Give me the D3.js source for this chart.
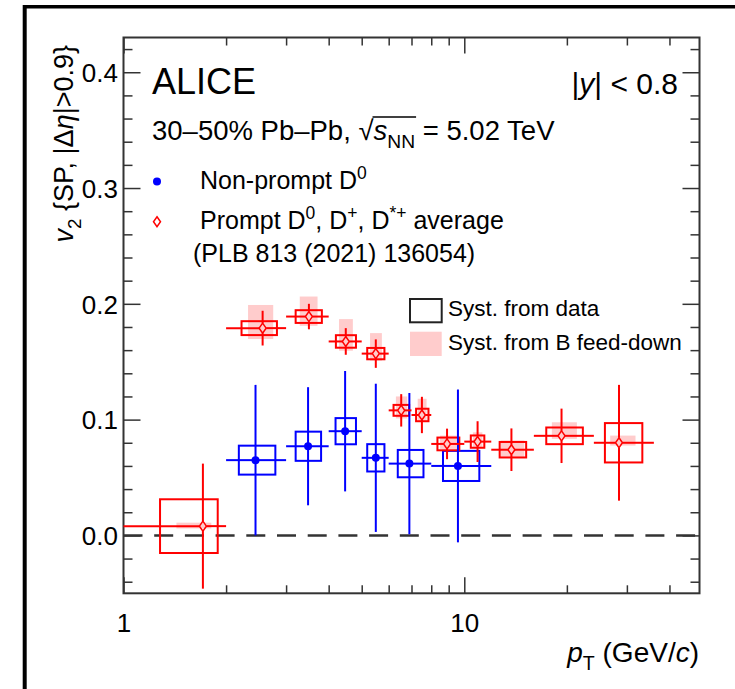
<!DOCTYPE html>
<html>
<head>
<meta charset="utf-8">
<script src="https://cdn.jsdelivr.net/npm/d3@7"></script>
<style>
  body { margin: 0; background: #fff; }
  svg text { font-family: "Liberation Sans", Arial, Helvetica, sans-serif; fill: #000; }
</style>
</head>
<body>
<svg id="chart" width="735" height="689"></svg>
<script>
// non-prompt D0 (blue)
const npPt    = [2.44, 3.48, 4.47, 5.5, 6.9, 9.58];
const npBinLo = [2, 3, 4, 5, 6, 8];
const npBinHi = [3, 4, 5, 6, 8, 12];
const npV2    = [0.065, 0.077, 0.090, 0.067, 0.062, 0.060];
const npStat  = [0.065, 0.051, 0.052, 0.064, 0.061, 0.066];
const npSyst  = [0.0125, 0.0126, 0.0113, 0.0118, 0.0118, 0.013];
const npBoxLo = [2.18, 3.2, 4.19, 5.19, 6.38, 8.66];
const npBoxHi = [2.79, 3.8, 4.81, 5.83, 7.59, 11.07];

// prompt D average (red)
const prPt    = [1.71, 2.56, 3.5, 4.49, 5.5, 6.53, 7.51, 8.9, 10.94, 13.75, 19.29, 28.44];
const prBinLo = [1, 2, 3, 4, 5, 6, 7, 8, 10, 12, 16, 24];
const prBinHi = [2, 3, 4, 5, 6, 7, 8, 10, 12, 16, 24, 36];
const prV2    = [0.008, 0.179, 0.189, 0.1675, 0.157, 0.108, 0.104, 0.079, 0.081, 0.074, 0.086, 0.080];
const prStat  = [0.054, 0.015, 0.011, 0.0115, 0.0123, 0.014, 0.0157, 0.0132, 0.0176, 0.0184, 0.0235, 0.050];
const prSyst  = [0.0232, 0.006, 0.0055, 0.0054, 0.0049, 0.0047, 0.0054, 0.0055, 0.0053, 0.0067, 0.0072, 0.017];
const prBoxLo = [1.28, 2.22, 3.2, 4.2, 5.19, 6.2, 7.22, 8.34, 10.45, 12.7, 17.4, 25.86];
const prBoxHi = [1.89, 2.82, 3.82, 4.81, 5.83, 6.89, 7.85, 9.67, 11.45, 15.19, 22.28, 33.3];
// B feed-down syst band
const prFdLo  = [0.006, 0.1696, 0.181, 0.1595, 0.1509, 0.101, 0.098, 0.0747, 0.076, 0.0675, 0.0834, 0.0776];
const prFdHi  = [0.011, 0.199, 0.2063, 0.1868, 0.1747, 0.120, 0.118, 0.0862, 0.089, 0.0819, 0.0977, 0.0862];
const prFdXLo = [1.43, 2.32, 3.29, 4.29, 5.29, 6.3, 7.3, 8.49, 10.6, 12.8, 18.07, 26.8];
const prFdXHi = [1.81, 2.75, 3.71, 4.71, 5.73, 6.8, 7.75, 9.5, 11.3, 15.0, 21.4, 31.8];

const yMajorTicks = [0.0, 0.1, 0.2, 0.3, 0.4];
const xMajorTicks = [1, 10];
const xMinorTicks = [2, 3, 4, 5, 6, 7, 8, 9, 20, 30, 40];

const svg = d3.select("#chart");
const margin = {left: 123.5, right: 699.5, top: 37.5, bottom: 593.3};
const blue = "#0000ff", red = "#ff0000", pink = "#ffcccc", axisCol = "#333";

const x = d3.scaleLog().domain([1, 49]).range([margin.left, margin.right]);
const y = d3.scaleLinear().domain([-0.05, 0.43]).range([margin.bottom, margin.top]);

// outer frame (only top/left visible)
svg.append("line").attr("x1", 24.7).attr("x2", 24.7).attr("y1", 5).attr("y2", 689)
  .attr("stroke", "#000").attr("stroke-width", 4);
svg.append("line").attr("x1", 23).attr("x2", 735).attr("y1", 6.7).attr("y2", 6.7)
  .attr("stroke", "#000").attr("stroke-width", 3.4);

const yMinorTicks = d3.range(-0.04, 0.43, 0.02).map(v => +v.toFixed(2))
  .filter(v => !yMajorTicks.some(m => Math.abs(m - v) < 1e-6));

// axes
function styleAxis(g) {
  g.select(".domain").remove();
  g.selectAll("line").attr("stroke", axisCol).attr("stroke-width", 1.5);
  g.selectAll("text").style("font-size", "26px")
    .style("font-family", '"Liberation Sans", Arial, sans-serif').attr("fill", "#000");
}
svg.append("g").attr("transform", `translate(${margin.left},0)`)
  .call(d3.axisLeft(y).tickValues(yMajorTicks).tickSize(-17).tickPadding(5.5).tickFormat(d3.format(".1f")))
  .call(styleAxis).selectAll("text").attr("dy", "0.36em");
svg.append("g").attr("transform", `translate(${margin.left},0)`)
  .call(d3.axisLeft(y).tickValues(yMinorTicks).tickSize(-9).tickFormat(""))
  .call(styleAxis);
svg.append("g").attr("transform", `translate(${margin.right},0)`)
  .call(d3.axisRight(y).tickValues(yMajorTicks).tickSize(-17).tickFormat(""))
  .call(styleAxis);
svg.append("g").attr("transform", `translate(${margin.right},0)`)
  .call(d3.axisRight(y).tickValues(yMinorTicks).tickSize(-9).tickFormat(""))
  .call(styleAxis);
svg.append("g").attr("transform", `translate(0,${margin.bottom})`)
  .call(d3.axisBottom(x).tickValues(xMajorTicks).tickSize(-16).tickPadding(20).tickFormat(d3.format("d")))
  .call(styleAxis);
svg.append("g").attr("transform", `translate(0,${margin.bottom})`)
  .call(d3.axisBottom(x).tickValues(xMinorTicks).tickSize(-8).tickFormat(""))
  .call(styleAxis);
svg.append("g").attr("transform", `translate(0,${margin.top})`)
  .call(d3.axisTop(x).tickValues(xMajorTicks).tickSize(-16).tickFormat(""))
  .call(styleAxis);
svg.append("g").attr("transform", `translate(0,${margin.top})`)
  .call(d3.axisTop(x).tickValues(xMinorTicks).tickSize(-8).tickFormat(""))
  .call(styleAxis);

svg.append("rect").attr("x", margin.left).attr("y", margin.top)
  .attr("width", margin.right - margin.left).attr("height", margin.bottom - margin.top)
  .attr("fill", "none").attr("stroke", axisCol).attr("stroke-width", 2);

// zero line
svg.append("line").attr("x1", margin.left).attr("x2", margin.right).attr("y1", y(0)).attr("y2", y(0))
  .attr("stroke", axisCol).attr("stroke-width", 2.5).attr("stroke-dasharray", "19,11.7");

const plot = svg.append("g");
const prIdx = d3.range(prPt.length), npIdx = d3.range(npPt.length);

// feed-down boxes
plot.selectAll(".fd").data(prIdx).join("rect")
  .attr("x", i => x(prFdXLo[i]))
  .attr("width", i => x(prFdXHi[i]) - x(prFdXLo[i]))
  .attr("y", i => y(prFdHi[i]))
  .attr("height", i => y(prFdLo[i]) - y(prFdHi[i]))
  .attr("fill", pink);

function systBoxes(cls, idx, bLo, bHi, v, s, col) {
  plot.selectAll("." + cls).data(idx).join("rect").attr("class", cls)
    .attr("x", i => x(bLo[i]))
    .attr("width", i => x(bHi[i]) - x(bLo[i]))
    .attr("y", i => y(v[i] + s[i]))
    .attr("height", i => y(v[i] - s[i]) - y(v[i] + s[i]))
    .attr("fill", "none").attr("stroke", col).attr("stroke-width", 2);
}
systBoxes("npsys", npIdx, npBoxLo, npBoxHi, npV2, npSyst, blue);
systBoxes("prsys", prIdx, prBoxLo, prBoxHi, prV2, prSyst, red);

// stat error bars, with a gap around the marker
function statBars(idx, pt, lo, hi, v, e, col, gx, gy) {
  const g = plot.append("g").attr("stroke", col).attr("stroke-width", 2);
  idx.forEach(i => {
    const cx = x(pt[i]), cy = y(v[i]);
    const x0 = Math.max(x(lo[i]), margin.left), x1 = x(hi[i]);
    g.append("line").attr("x1", x0).attr("x2", cx - gx).attr("y1", cy).attr("y2", cy);
    g.append("line").attr("x1", cx + gx).attr("x2", x1).attr("y1", cy).attr("y2", cy);
    g.append("line").attr("x1", cx).attr("x2", cx).attr("y1", y(v[i] + e[i])).attr("y2", cy - gy);
    g.append("line").attr("x1", cx).attr("x2", cx).attr("y1", cy + gy).attr("y2", y(v[i] - e[i]));
  });
}
statBars(npIdx, npPt, npBinLo, npBinHi, npV2, npStat, blue, 0, 0);
statBars(prIdx, prPt, prBinLo, prBinHi, prV2, prStat, red, 3.5, 5);

const diamond = "M0,-5L3.5,0L0,5L-3.5,0Z";
plot.selectAll(".npdot").data(npIdx).join("circle")
  .attr("cx", i => x(npPt[i])).attr("cy", i => y(npV2[i])).attr("r", 4).attr("fill", blue);
plot.selectAll(".prdia").data(prIdx).join("path")
  .attr("d", diamond).attr("transform", i => `translate(${x(prPt[i])},${y(prV2[i])})`)
  .attr("fill", "none").attr("stroke", red).attr("stroke-width", 1.5);

// texts
function addText(tx, ty, size, parts, anchor) {
  const t = svg.append("text").attr("x", tx).attr("y", ty)
    .style("font-size", size + "px").attr("text-anchor", anchor || "start");
  let shift = 0;
  parts.forEach(p => {
    const s = t.append("tspan").text(p.t);
    const target = p.sub ? 0.3 * size : p.sup ? -0.4 * size : 0;
    if (target !== shift) { s.attr("dy", target - shift); shift = target; }
    if (p.sub || p.sup) s.style("font-size", (0.7 * size) + "px");
    if (p.i) s.style("font-style", "italic");
  });
  return t;
}

addText(152, 93.5, 36, [{t: "ALICE"}]);
addText(678, 93.5, 30, [{t: "|"}, {t: "y", i: true}, {t: "| < 0.8"}], "end");
const l2 = addText(152, 140, 27.5, [{t: "30\u201350% Pb\u2013Pb, "}, {t: "\u221A"}, {t: "s", i: true}, {t: "NN", sub: true}, {t: " = 5.02 TeV"}]);
{
  const node = l2.node();
  const txt = node.textContent;
  const iRoot = txt.indexOf("\u221A");
  const er = node.getExtentOfChar(iRoot);
  const eN = node.getExtentOfChar(iRoot + 3);
  svg.append("line").attr("x1", er.x + er.width - 1).attr("x2", eN.x + eN.width + 1)
    .attr("y1", er.y + 2).attr("y2", er.y + 2).attr("stroke", "#000").attr("stroke-width", 1.5);
}

svg.append("circle").attr("cx", 157).attr("cy", 181.5).attr("r", 4).attr("fill", blue);
addText(200, 188.5, 25, [{t: "Non-prompt D"}, {t: "0", sup: true}]);
svg.append("path").attr("d", diamond).attr("transform", "translate(157,221.7)")
  .attr("fill", "none").attr("stroke", red).attr("stroke-width", 1.5);
addText(200, 228.5, 25, [{t: "Prompt D"}, {t: "0", sup: true}, {t: ", D"}, {t: "+", sup: true}, {t: ", D"}, {t: "*+", sup: true}, {t: " average"}]);
addText(193, 262, 25, [{t: "(PLB 813 (2021) 136054)"}]);

svg.append("rect").attr("x", 410).attr("y", 299).attr("width", 31.7).attr("height", 23.3)
  .attr("fill", "none").attr("stroke", "#222").attr("stroke-width", 2);
addText(448, 316, 22.5, [{t: "Syst. from data"}]);
svg.append("rect").attr("x", 410).attr("y", 331.7).attr("width", 31.7).attr("height", 24.3)
  .attr("fill", pink);
addText(448, 350, 22.5, [{t: "Syst. from B feed-down"}]);

addText(699, 662, 28, [{t: "p", i: true}, {t: "T", sub: true}, {t: " (GeV/"}, {t: "c", i: true}, {t: ")"}], "end");

const yt = addText(0, 0, 27, [{t: "v", i: true}, {t: "2", sub: true}, {t: " {SP, |\u0394"}, {t: "\u03B7", i: true}, {t: "|>0.9}"}], "end");
yt.attr("transform", "translate(73,45) rotate(-90)");
</script>
</body>
</html>
